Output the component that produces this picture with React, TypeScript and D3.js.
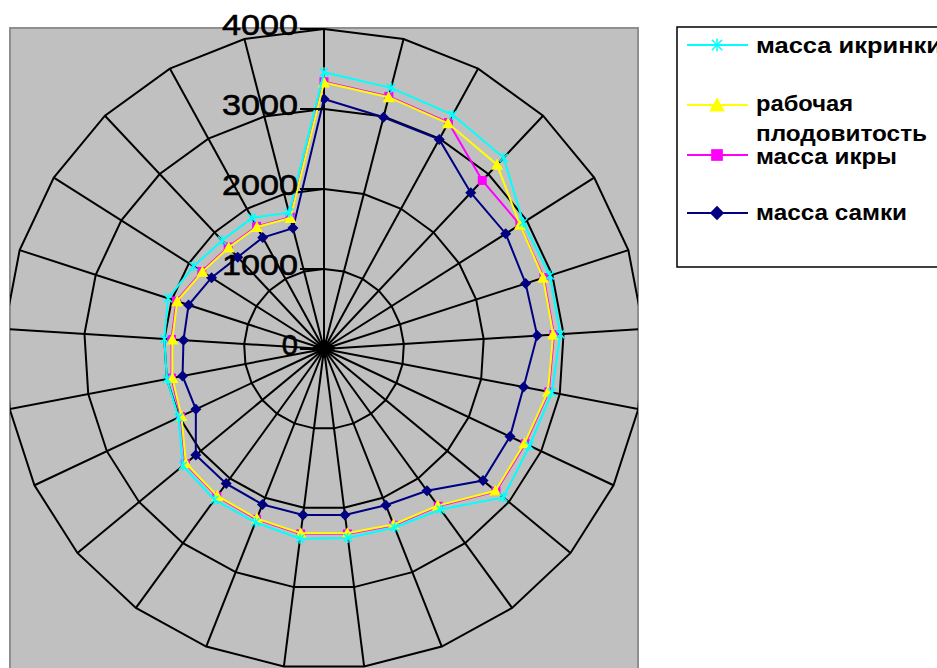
import React from "react";
import * as d3 from "d3";

const categories = ["1","2","3","4","5","6","7","8","9","10","11","12","13","14","15","16","17","18","19","20","21","22","23","24","25"];
const ticks = [0, 1000, 2000, 3000, 4000];
const tickLabels = ["0", "1000", "2000", "3000", "4000"];

const massaIkrinki = [3460,3370,3340,3280,2950,2970,2960,2900,2840,2910,2480,2400,2380,2390,2330,2330,2290,2010,2000,2000,2050,1930,1860,1870,1760];
const rabochaya = [3330,3250,3220,3160,2900,2880,2870,2850,2770,2780,2420,2360,2320,2320,2280,2270,2240,1970,1930,1900,1930,1800,1740,1740,1690];
const massaIkry = [3340,3260,3230,2890,2900,2890,2880,2860,2780,2790,2430,2370,2330,2330,2290,2280,2250,1980,1940,1910,1940,1810,1750,1750,1700];
const massaSamki = [3125,2990,2990,2680,2690,2650,2670,2540,2570,2580,2190,2100,2090,2090,2090,2080,2080,1770,1800,1760,1780,1665,1575,1590,1560];

const seriesNames = ["масса икринки", "рабочая", "масса икры", "масса самки"];

const CX = 324, CY = 349;

function Marker({ kind, x, y, color, s = 1 }: { kind: string; x: number; y: number; color: string; s?: number }) {
  if (kind === "star") {
    return (
      <g stroke={color} strokeWidth={1.5}>
        <line x1={x - 4 * s} y1={y - 4 * s} x2={x + 4 * s} y2={y + 4 * s} />
        <line x1={x - 4 * s} y1={y + 4 * s} x2={x + 4 * s} y2={y - 4 * s} />
        <line x1={x} y1={y - 5 * s} x2={x} y2={y + 5 * s} />
      </g>
    );
  }
  if (kind === "tri") {
    return <polygon points={`${x},${y - 6 * s} ${x + 6 * s},${y + 5 * s} ${x - 6 * s},${y + 5 * s}`} fill={color} />;
  }
  if (kind === "square") {
    return <rect x={x - 4.5 * s} y={y - 4.5 * s} width={9 * s} height={9 * s} fill={color} />;
  }
  return <polygon points={`${x},${y - 5.5 * s} ${x + 5.5 * s},${y} ${x},${y + 5.5 * s} ${x - 5.5 * s},${y}`} fill={color} />;
}

export default function App() {
  const r = d3.scaleLinear().domain([0, 4000]).range([0, 320]);
  const angle = d3.scalePoint<string>().domain(categories).range([0, (2 * Math.PI * (categories.length - 1)) / categories.length]);
  const ring = d3.lineRadial<string>().angle((c) => angle(c) as number).radius(0).curve(d3.curveLinearClosed);
  const ser = (vals: number[]) =>
    d3.lineRadial<number>().angle((_, i) => angle(categories[i]) as number).radius((v) => r(v)).curve(d3.curveLinearClosed)(vals) as string;
  const pt = (v: number, i: number) => {
    const a = angle(categories[i]) as number;
    return [CX + r(v) * Math.sin(a), CY - r(v) * Math.cos(a)];
  };

  const series = [
    { vals: massaSamki, color: "#000080", kind: "diamond" },
    { vals: massaIkry, color: "#ff00ff", kind: "square" },
    { vals: rabochaya, color: "#ffff00", kind: "tri" },
    { vals: massaIkrinki, color: "#00ffff", kind: "star" },
  ];

  const legend = [
    { name: seriesNames[0], color: "#00ffff", kind: "star", y: 45, ty: 53, tl: 186 },
    { name: seriesNames[1], color: "#ffff00", kind: "tri", y: 105, ty: 111, tl: 97 },
    { name: seriesNames[2], color: "#ff00ff", kind: "square", y: 155, ty: 164, tl: 141 },
    { name: seriesNames[3], color: "#000080", kind: "diamond", y: 213, ty: 220, tl: 151 },
  ];

  return (
    <svg width={937} height={668} style={{ position: "absolute", left: 0, top: 0, background: "#fff" }} fontFamily="'Liberation Sans', Arial, sans-serif">
      <defs>
        <clipPath id="plot">
          <rect x={10} y={28} width={628} height={660} />
        </clipPath>
      </defs>
      <rect x={10} y={28} width={628} height={660} fill="#c0c0c0" stroke="#8f8f8f" strokeWidth={2} />
      <g clipPath="url(#plot)">
        <g transform={`translate(${CX},${CY})`} fill="none" stroke="#000" strokeWidth={2}>
          {ticks.slice(1).map((t) => (
            <path key={t} d={ring.radius(r(t))(categories) as string} />
          ))}
          {categories.map((c) => {
            const a = angle(c) as number;
            return <line key={c} x1={0} y1={0} x2={r(4000) * Math.sin(a)} y2={-r(4000) * Math.cos(a)} />;
          })}
        </g>
        <polygon points={`${CX},${CY - 10} ${CX + 12},${CY - 1} ${CX},${CY + 9} ${CX - 12},${CY - 1}`} fill="#000" />
        {series.map((s, k) => (
          <g key={k}>
            <path d={ser(s.vals)} transform={`translate(${CX},${CY})`} fill="none" stroke={s.color} strokeWidth={2} />
            {s.vals.map((v, i) => {
              const [x, y] = pt(v, i);
              return <Marker key={i} kind={s.kind} x={x} y={y} color={s.color} />;
            })}
          </g>
        ))}
      </g>
      {ticks.map((t, i) => (
        <g key={t}>
          <line x1={CX - 24} x2={CX} y1={CY - r(t)} y2={CY - r(t)} stroke="#000" strokeWidth={2} />
          <text
            x={298}
            y={CY - r(t) - 2}
            textAnchor="end"
            dominantBaseline="middle"
            fontSize={29}
            textLength={t === 0 ? undefined : 76}
            lengthAdjust="spacingAndGlyphs"
            fill="#000"
            stroke="#000"
            strokeWidth={0.6}
          >
            {tickLabels[i]}
          </text>
        </g>
      ))}
      <rect x={677} y={27} width={280} height={240} fill="#fff" stroke="#000" strokeWidth={1.5} />
      {legend.map((l, i) => (
        <g key={i}>
          <line x1={687} x2={748} y1={l.y} y2={l.y} stroke={l.color} strokeWidth={2} />
          <Marker kind={l.kind} x={717} y={l.y} color={l.color} s={1.3} />
          <text x={756} y={l.ty} fontSize={22} fontWeight="bold" textLength={l.tl} lengthAdjust="spacingAndGlyphs" fill="#000">
            {l.name}
          </text>
        </g>
      ))}
      <text x={756} y={141} fontSize={22} fontWeight="bold" textLength={171} lengthAdjust="spacingAndGlyphs" fill="#000">
        плодовитость
      </text>
    </svg>
  );
}
